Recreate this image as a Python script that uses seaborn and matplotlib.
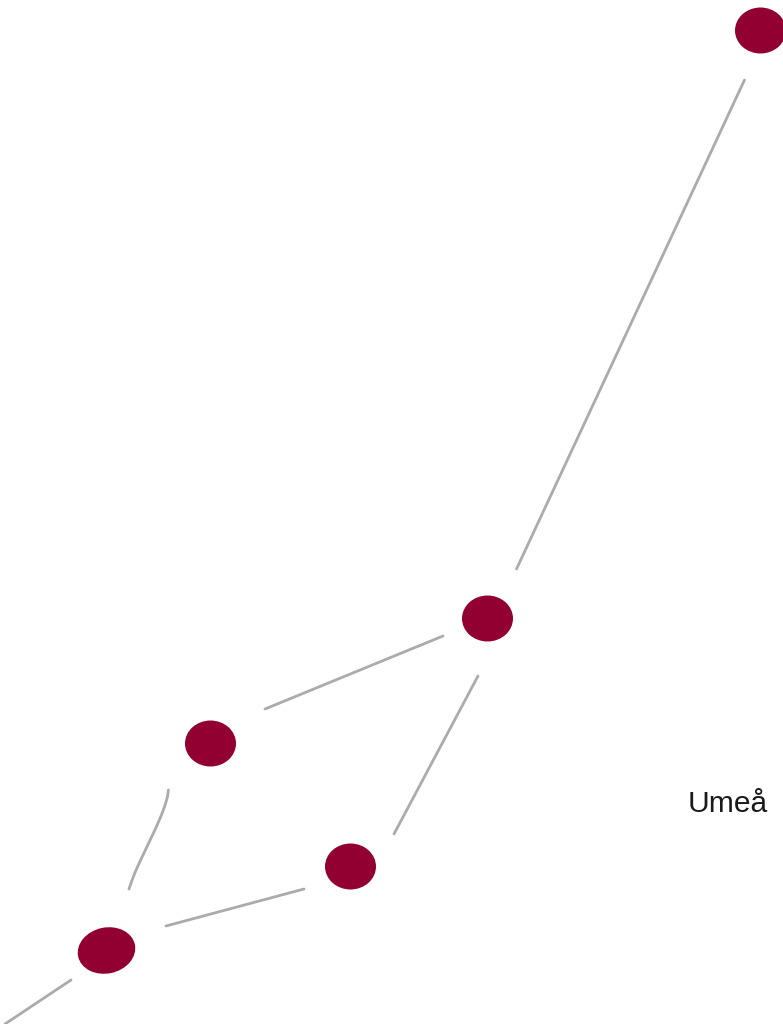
import matplotlib
matplotlib.use('Agg')
import matplotlib.pyplot as plt
import pandas as pd
import seaborn as sns
from matplotlib.path import Path
from matplotlib.transforms import Affine2D

# node positions (pixel coordinates)
node_x = [760, 487, 210, 350, 105.5]
node_y = [30, 618, 743, 866, 950]

# edges between the nodes, each one a list of points
edge_top_x = [744.5, 516.5]
edge_top_y = [80, 569]
edge_left_x = [443, 265]
edge_left_y = [636, 709]
edge_right_x = [478, 394]
edge_right_y = [676, 834]
edge_bottom_x = [304, 166]
edge_bottom_y = [889, 926]
edge_out_x = [71, 5]
edge_out_y = [980, 1024]
edge_curve_x = [168.4, 167.4, 165.4, 163, 160.2, 156.7, 153, 149.2, 145.4, 141.6, 137.9, 134.8, 132.5, 130.7, 129]
edge_curve_y = [790, 797, 804, 811, 818, 826, 834, 842, 850, 858, 866, 873, 879, 884, 889]

label_text = 'Umeå'

RED = '#920031'
GRAY = '#ababab'


def oval_marker(w, h, tilt=0):
    # custom marker, returns the path and the scatter size for w x h pixels
    path = Path.unit_circle().transformed(Affine2D().scale(w / 2, h / 2).rotate_deg(tilt))
    extent = abs(path.vertices).max()
    return path, (2 * extent * 0.72) ** 2


sns.set_theme(style='white')
fig, ax = plt.subplots(figsize=(7.83, 10.24), dpi=100)
fig.subplots_adjust(0, 0, 1, 1)

edges = [
    (edge_top_x, edge_top_y),
    (edge_left_x, edge_left_y),
    (edge_right_x, edge_right_y),
    (edge_bottom_x, edge_bottom_y),
    (edge_out_x, edge_out_y),
    (edge_curve_x, edge_curve_y),
]
rows = []
for i, (xs, ys) in enumerate(edges):
    for x, y in zip(xs, ys):
        rows.append({'x': x, 'y': y, 'edge': i})
edge_df = pd.DataFrame(rows)
sns.lineplot(data=edge_df, x='x', y='y', units='edge', estimator=None, sort=False,
             color=GRAY, lw=2.0, ax=ax, legend=False)

# last node is bigger and tilted a bit
shapes = [(51, 46, 0), (51, 46, 0), (51, 46, 0), (51, 46, 0), (58, 46, 12)]
for x, y, shape in zip(node_x, node_y, shapes):
    marker, size = oval_marker(*shape)
    sns.scatterplot(x=[x], y=[y], marker=marker, s=size, color=RED, linewidth=0, ax=ax, zorder=3)

ax.text(688, 812, label_text, fontsize=21.6, family='Liberation Sans', color='#1a1a1a',
        ha='left', va='baseline')

ax.set_xlim(0, 783)
ax.set_ylim(1024, 0)
ax.set_xlabel('')
ax.set_ylabel('')
ax.axis('off')

plt.savefig('out.png', dpi=100)
plt.close()
